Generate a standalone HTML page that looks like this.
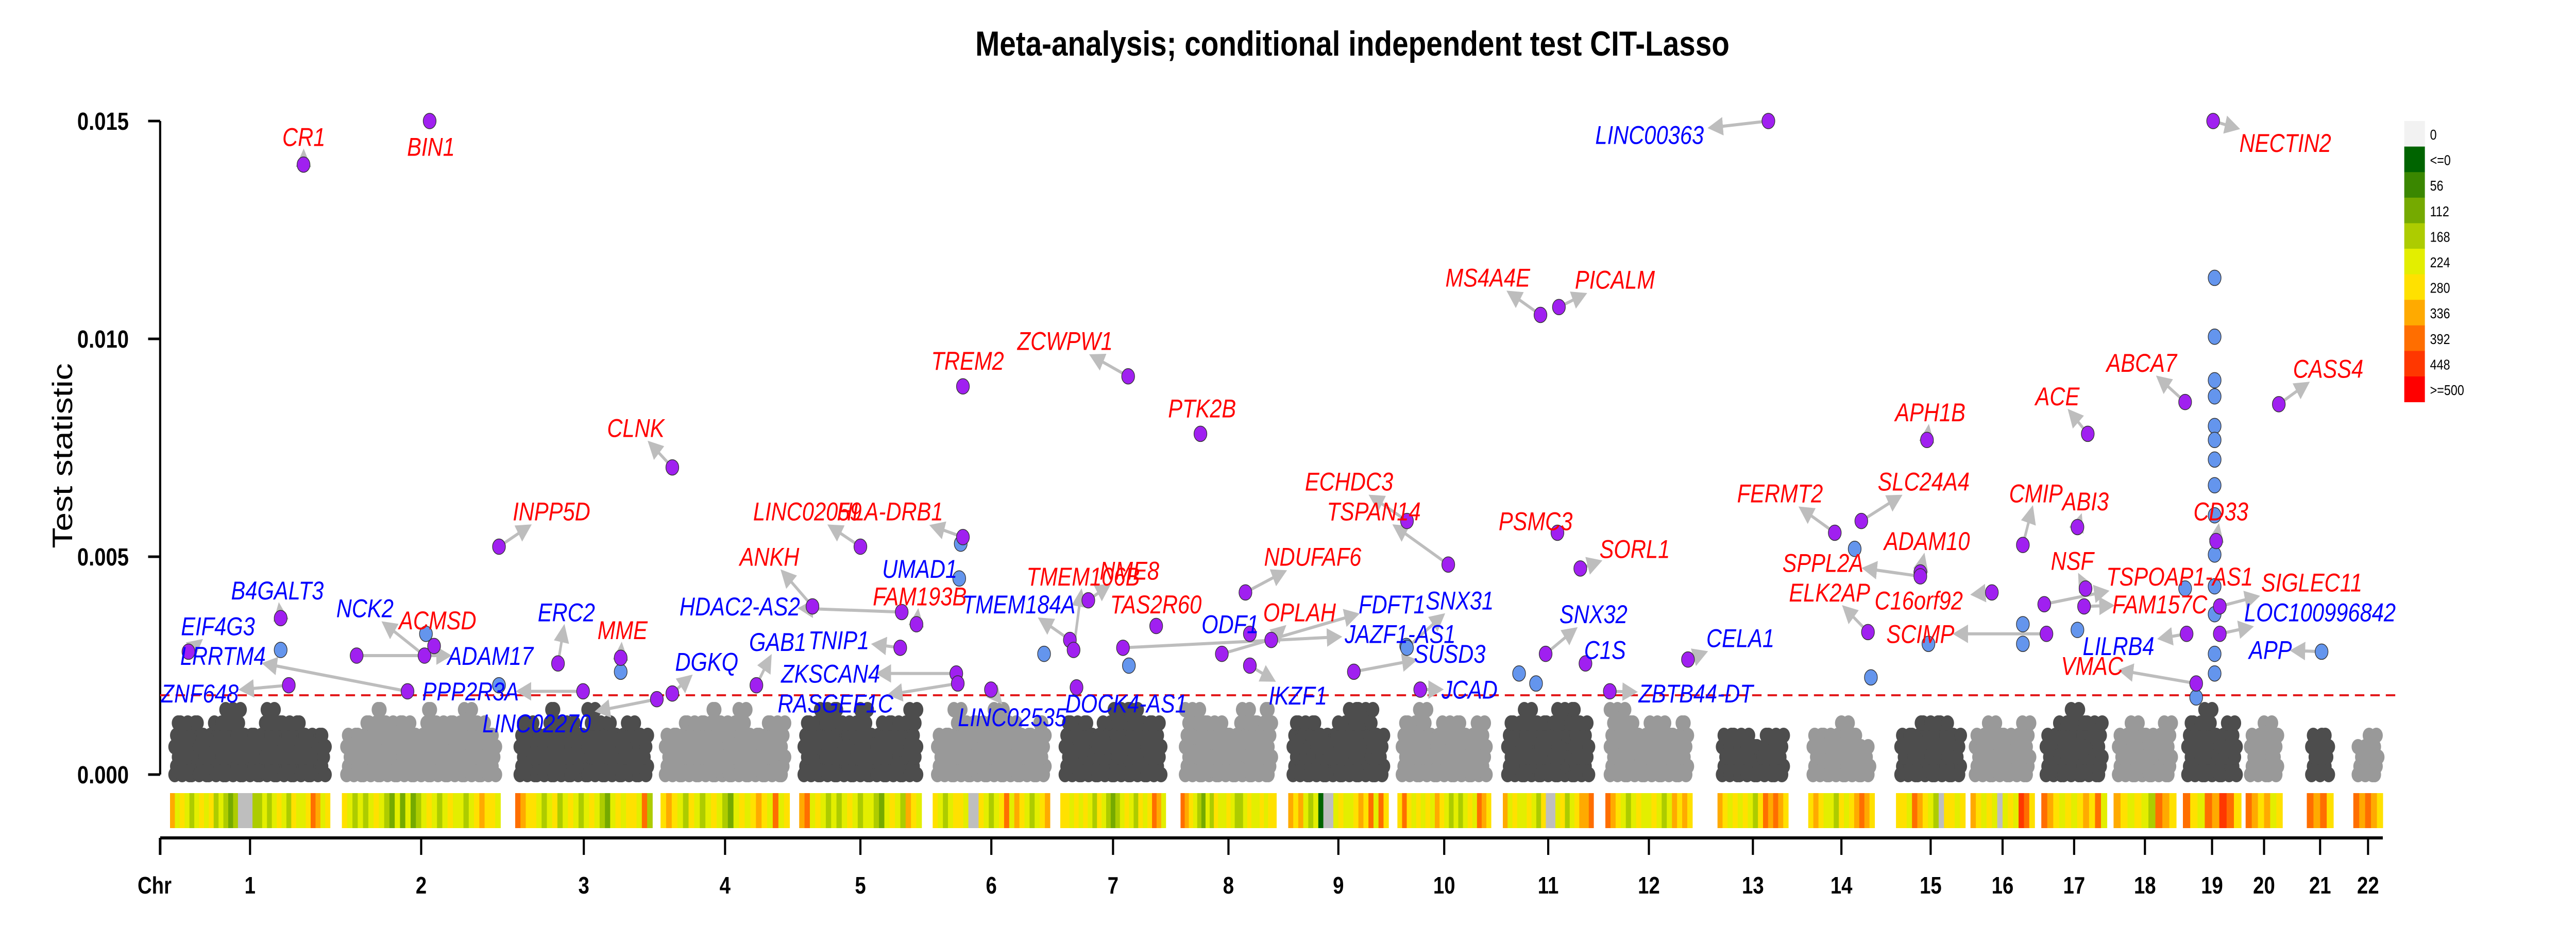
<!DOCTYPE html>
<html><head><meta charset="utf-8">
<style>
html,body{margin:0;padding:0;background:#fff;width:100vw;height:100vh;overflow:hidden;}
svg{display:block;width:100vw;height:100vh;}
text{font-family:"Liberation Sans",Arial,sans-serif;}
</style></head>
<body>
<svg id="chart" viewBox="0 0 6000 1800" preserveAspectRatio="none" xmlns="http://www.w3.org/2000/svg">
<text x="3150" y="108" text-anchor="middle" font-size="68" font-weight="bold">Meta-analysis; conditional independent test CIT-Lasso</text>
<text transform="translate(168,885) rotate(-90)" text-anchor="middle" font-size="66">Test statistic</text>
<g id="bg"></g><g id="heat"></g><g id="axes"></g><g id="arrows"></g><g id="pts"></g><g id="labels"></g><g id="legend"></g>
</svg>
<script>
// ---- data ----
const chromNames = ["1","2","3","4","5","6","7","8","9","10","11","12","13","14","15","16","17","18","19","20","21","22"];
const chromStart = [0,233,468,665,853,1034,1207,1370,1516,1664,1807,1946,2098,2221,2340,2441,2537,2635,2729,2814,2897,2960];
const chromEnd   = [217,448,654,840,1019,1193,1350,1500,1652,1791,1930,2064,2194,2311,2434,2528,2626,2720,2808,2864,2933,3000];
// background cloud max heights (x 0.001) per chromosome
const chromBg = [
 [1.2,1.4,1.1,1.3,1.5,0.9,1.0,1.6,1.3,1.2,1.1,0.9],
 [1.0,1.2,1.5,1.3,1.4,1.1,1.7,1.2,1.4,1.6,1.3,1.0],
 [1.3,1.1,1.6,1.4,0.9,1.5,1.2,1.1,1.3,1.0],
 [1.1,1.4,1.2,1.6,1.3,1.5,1.0,1.2,1.4],
 [1.2,1.5,1.6,1.3,1.7,1.1,1.4,1.2,1.5],
 [1.0,1.6,1.4,1.2,1.5,1.3,1.1,1.4],
 [1.2,1.3,1.0,1.4,1.6,1.5,1.2,1.3],
 [1.5,1.2,1.4,1.1,1.6,1.3,1.5],
 [1.4,1.2,1.0,1.3,1.5,1.6,1.1],
 [1.2,1.5,1.0,1.4,1.3,1.1,1.4],
 [1.3,1.5,1.2,1.4,1.6,1.7,1.3],
 [1.5,1.2,1.0,1.3,1.1,1.2],
 [0.9,1.0,0.8,0.9,1.0],
 [0.9,1.1,1.2,1.0,0.8],
 [1.0,1.4,1.2,1.3,1.0],
 [0.9,1.2,1.1,1.0,1.3],
 [1.1,1.4,1.6,1.3,1.2],
 [1.0,1.2,1.1,0.9,1.3],
 [1.2,1.5,1.1,1.3],
 [1.0,1.3,1.1],
 [0.9,1.0],
 [0.8,1.0]
];
const heatStr = [
 "75654565645434ggg4454565465568756","654545654353534565456554567665","87665456456545654356566584","67654654565435656765856","78565454565455435654765","6545665gg65456857654567","66565654654345654656875","87654354655654456556566","7675451gg56556768586","68656565765454565876","756556546gg56456778","87654565565457676","76565654687876","6765546567876","66587654g6656","76565g565986","87656567685","765654876","86587986","876756","8786","87876"
];
const legendLabels = ["0","<=0","56","112","168","224","280","336","392","448",">=500"];
const legendColors = ["#f2f2f2","#006400","#3a8700","#75aa00","#adcc00","#e3ee00","#ffe100","#ffaa00","#ff6e00","#ff3700","#ff0000"];
const yTicks = [0,0.005,0.010,0.015];
const yTickLabels = ["0.000","0.005","0.010","0.015"];
const threshold = 0.00182;

const geneNames = ["EIF4G3","B4GALT3","LRRTM4","ZNF648","CR1","BIN1","NCK2","ACMSD","ADAM17","PPP2R3A","LINC02270","INPP5D","ERC2","MME","CLNK","DGKQ","HDAC2-AS2","GAB1","TNIP1","ZKSCAN4","RASGEF1C","ANKH","LINC02059","HLA-DRB1","UMAD1","FAM193B","TMEM184A","TREM2","ZCWPW1","PTK2B","LINC02535","TMEM106B","NME8","TAS2R60","DOCK4-AS1","ODF1","NDUFAF6","OPLAH","IKZF1","FDFT1","JAZF1-AS1","SNX31","ECHDC3","TSPAN14","SUSD3","JCAD","LINC00363","MS4A4E","PICALM","PSMC3","SORL1","SNX32","C1S","CELA1","ZBTB44-DT","FERMT2","SLC24A4","APH1B","ADAM10","SPPL2A","ELK2AP","C16orf92","SCIMP","ACE","CMIP","ABI3","NSF","TSPOAP1-AS1","FAM157C","ABCA7","CASS4","NECTIN2","CD33","SIGLEC11","LOC100996842","LILRB4","VMAC","APP"];
const genePos = [25,150,322,161,181,352,345,358,253,560,660,446,526,611,681,681,992,795,990,1066,1068,871,936,1075,1070,1012,1220,1075,1299,1397,1113,1225,1245,1337,1229,1464,1458,1493,1464,1426,1292,1677,1677,1733,1605,1695,2167,1858,1883,1881,1912,1865,1919,2058,1952,2257,2293,2382,2373,2373,2302,2470,2544,2600,2512,2586,2597,2541,2595,2732,2859,2770,2774,2779,2779,2734,2747,2917];
const geneVal = [0.00282,0.00359,0.00191,0.00205,0.0140,0.0150,0.00273,0.00295,0.00273,0.00191,0.00173,0.00523,0.00255,0.00268,0.00705,0.00186,0.00373,0.00205,0.00291,0.00232,0.00209,0.00386,0.00523,0.00545,0.0045,0.00345,0.00309,0.00891,0.00914,0.00782,0.00195,0.00286,0.0040,0.00341,0.0020,0.00323,0.00418,0.00309,0.0025,0.00277,0.00291,0.00291,0.00582,0.00482,0.00236,0.00195,0.0150,0.01055,0.01073,0.00555,0.00473,0.00277,0.00255,0.00264,0.00191,0.00555,0.00582,0.00768,0.00464,0.00455,0.00327,0.00418,0.00323,0.00782,0.00527,0.00568,0.00427,0.00391,0.00386,0.00855,0.0085,0.0150,0.00536,0.00386,0.00323,0.00323,0.00209,0.00282];
const geneLabelColor = "bbbbrrbrbbbrbrrbbbbbbrrrbrbrrrbrrrbbrrbbbbrrbbbrrrrbbbbrrrrrrrrrrrrrrrrrrrbbr";
const genePtColor = "ppppppppppppppppppppppppbppppppppppppppppbppppppppppppppppppppppppppppppppppp";
// label anchor layout (reference-frame units, not data)
const labelAt = [[132,316],[168,298],[135,331],[121,350],[184,69],[261,74],[221,307],[265,313],[297,331],[285,349],[325,365],[334,258],[343,309],[377,318],[385,216],[428,334],[448,306],[471,324],[508,323],[503,340],[506,355],[466,281],[489,258],[539,258],[557,287],[557,301],[617,305],[586,182],[645,172],[728,206],[613,362],[656,291],[684,288],[700,305],[682,355],[745,315],[795,281],[787,309],[786,351],[843,305],[848,320],[884,303],[817,243],[832,258],[878,330],[890,348],[999,68],[901,140],[978,141],[930,263],[990,277],[965,310],[972,328],[1054,322],[1027,350],[1078,249],[1165,243],[1169,208],[1167,273],[1104,284],[1108,299],[1162,303],[1163,320],[1246,200],[1233,249],[1263,253],[1255,283],[1320,291],[1308,305],[1297,183],[1410,186],[1384,72],[1345,258],[1400,294],[1405,309],[1283,326],[1267,336],[1375,328]];
// additional unlabeled significant points
const extraPos = [2772,2772,2772,2772,2772,2772,2772,2772,2772,2772,2772,2772,2772,2772,347,150,446,611,2284,2306,2384,2512,2512,2586,1852,1829,2747,2732,1072,1185,1300,1676];
const extraVal = [0.0114,0.01005,0.00905,0.00868,0.0080,0.00768,0.00723,0.00664,0.00595,0.00505,0.00432,0.00368,0.00277,0.00232,0.00323,0.00286,0.00205,0.00236,0.00518,0.00223,0.0030,0.00345,0.0030,0.00332,0.00209,0.00232,0.00177,0.00427,0.0053,0.00277,0.0025,0.00295];

// ---- scales ----
const S = 3.846;
const X0 = 396, X1 = 5550, GEN = 3000;
function xs(p){ return X0 + p*(X1-X0)/GEN; }
const Y0 = 1504, YTOP = 235;
function ys(v){ return Y0 - v/0.015*(Y0-YTOP); }
const NS = "http://www.w3.org/2000/svg";
function mk(tag, attrs, parent){ const e=document.createElementNS(NS,tag); for(const k in attrs) e.setAttribute(k,attrs[k]); parent.appendChild(e); return e; }

// background clouds
const bg = document.getElementById('bg');
chromNames.forEach((c,ci)=>{
  const g = mk('g',{fill: ci%2===0?'#4d4d4d':'#999999'},bg);
  
  
  const xa = xs(chromStart[ci])+15, xb = xs(chromEnd[ci])-15;
  const prof = chromBg[ci];
  const ncol = Math.max(2, Math.round((xb-xa)/13));
  for(let i=0;i<=ncol;i++){
    const x = xa + (xb-xa)*i/ncol;
    const h = prof[Math.min(prof.length-1, Math.floor(i*prof.length/(ncol+1)))]*0.001;
    const top = ys(h);
    let k=0;
    for(let y=Y0; y>=top; y-=14+k*2){
      mk('circle',{cx:(x+((k+i)%3-1)*4).toFixed(1),cy:y.toFixed(1),r:15},g);
      k++;
    }
  }
});

// heat strips
const heat = document.getElementById('heat');
chromNames.forEach((c,ci)=>{
  const g = mk('g',{},heat);
  
  
  const xa = xs(chromStart[ci]), xb = xs(chromEnd[ci]);
  const s = heatStr[ci]; const w=(xb-xa)/s.length;
  for(let i=0;i<s.length;i++){
    const ch=s[i];
    const col = ch==='g' ? '#bebebe' : legendColors[+ch];
    mk('rect',{x:(xa+i*w).toFixed(1),y:1540,width:(w+0.6).toFixed(1),height:68,fill:col},g);
  }
});

// axes
const ax = document.getElementById('axes');
const yAxis = mk('line',{x1:373,y1:YTOP,x2:373,y2:Y0,stroke:'#000','stroke-width':5},ax);


yTicks.forEach((t,i)=>{
  mk('line',{x1:345,y1:ys(t),x2:373,y2:ys(t),stroke:'#000','stroke-width':5},ax);
  const tl = mk('text',{x:300,y:ys(t)+17,'text-anchor':'end','font-size':48,'font-weight':'bold'},ax);
  tl.textContent = yTickLabels[i];
  
  
});
const xAxis = mk('line',{x1:373,y1:1627,x2:X1,y2:1627,stroke:'#000','stroke-width':6},ax);


mk('line',{x1:373,y1:1627,x2:373,y2:1660,stroke:'#000','stroke-width':6},ax);
const chrT = mk('text',{x:360,y:1735,'text-anchor':'middle','font-size':46,'font-weight':'bold'},ax);
chrT.textContent='Chr';


chromNames.forEach((c,ci)=>{
  const xc = xs((chromStart[ci]+chromEnd[ci])/2);
  mk('line',{x1:xc,y1:1627,x2:xc,y2:1660,stroke:'#000','stroke-width':5},ax);
  const t = mk('text',{x:xc,y:1735,'text-anchor':'middle','font-size':46,'font-weight':'bold'},ax);
  t.textContent=c;
  
  
});
const th = mk('line',{x1:373,y1:ys(threshold),x2:X1+40,y2:ys(threshold),stroke:'#e31a1c','stroke-width':4,'stroke-dasharray':'22 14'},ax);



// defs for arrowhead
const defs = mk('defs',{},document.getElementById('chart'));
const mkr = mk('marker',{id:'ah',markerWidth:6,markerHeight:6,refX:5,refY:3,orient:'auto',markerUnits:'strokeWidth'},defs);
mk('path',{d:'M0,0 L6,3 L0,6 z',fill:'#bdbdbd'},mkr);

// points and labels
const pts = document.getElementById('pts'), arr=document.getElementById('arrows'), lab=document.getElementById('labels');
extraPos.forEach((p,i)=>{
  const c = mk('circle',{cx:xs(p),cy:ys(extraVal[i]),r:15,fill:'#6495ed',stroke:'#333','stroke-width':1.5},pts);
  
  
});
const FS=50;
geneNames.forEach((n,i)=>{
  const px=xs(genePos[i]), py=ys(geneVal[i]);
  const lx=labelAt[i][0]*S, ly=labelAt[i][1]*S;
  const w = n.length*FS*0.6/2+6, h=FS*0.5+4;
  const dx=px-lx, dy=py-ly;
  let tt = Math.min(Math.abs(dx)>0.01? w/Math.abs(dx):1e9, Math.abs(dy)>0.01? h/Math.abs(dy):1e9);
  if(tt<1){
    const ex=lx+dx*tt, ey=ly+dy*tt;
    const len=Math.hypot(px-ex,py-ey);
    if(len>22){
      const a=mk('line',{x1:px,y1:py,x2:ex,y2:ey,stroke:'#bdbdbd','stroke-width':6,'marker-end':'url(#ah)'},arr);
      
      
    }
  }
  const c = mk('circle',{cx:px,cy:py,r:15,fill:genePtColor[i]==='p'?'#a020f0':'#6495ed',stroke:'#333','stroke-width':1.5},pts);
  
  
  const t = mk('text',{x:lx,y:ly+FS*0.36,'text-anchor':'middle','font-size':FS,'font-style':'italic',fill:geneLabelColor[i]==='r'?'#ff0000':'#0000ff'},lab);
  t.textContent=n;
  
  
});

// legend
const lg = document.getElementById('legend');


legendLabels.forEach((l,i)=>{
  const y=235+i*49.6;
  const r=mk('rect',{x:5600,y:y,width:48,height:50,fill:legendColors[i]},lg);
  
  
  const t=mk('text',{x:5660,y:y+36,'font-size':28},lg);
  t.textContent=l;
  
  
});
</script>
</body></html>
